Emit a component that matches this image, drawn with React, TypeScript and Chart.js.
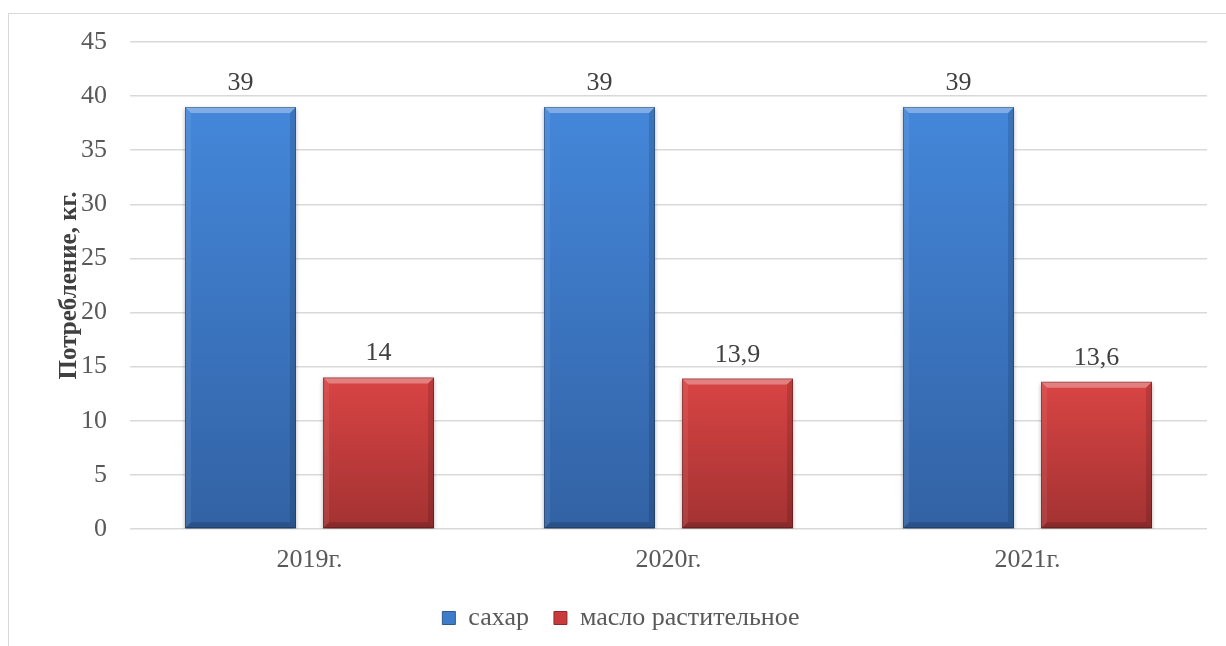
import React, { useEffect, useRef } from "react";
import { Chart, registerables } from "chart.js";

Chart.register(...registerables);

// ---- data ----
const categories = ["2019г.", "2020г.", "2021г."];
const sugarValues = [39, 39, 39];
const oilValues = [14, 13.9, 13.6];
const seriesNames = ["сахар", "масло растительное"];
const yAxisTitle = "Потребление, кг.";
const yMin = 0;
const yMax = 45;
const yStep = 5;

// ---- styles ----
const FONT = "'Liberation Serif', 'Times New Roman', serif";
const TICK_COLOR = "#595959";
const LABEL_COLOR = "#404040";
const GRID_COLOR = "#d9d9d9";
const BLUE_TOP = "#4487da";
const BLUE_BOTTOM = "#3262a4";
const RED_TOP = "#d94444";
const RED_BOTTOM = "#a33232";

function barFill(top: string, bottom: string) {
  return (ctx: any) => {
    const chart = ctx.chart;
    const y = chart && chart.scales ? chart.scales.y : null;
    if (!y || ctx.type !== "data" || !ctx.parsed) return top;
    const yTop = y.getPixelForValue(ctx.parsed.y);
    const yBase = y.getPixelForValue(0);
    if (!isFinite(yTop) || !isFinite(yBase) || yTop === yBase) return top;
    const g = chart.ctx.createLinearGradient(0, yTop, 0, yBase);
    g.addColorStop(0, top);
    g.addColorStop(1, bottom);
    return g;
  };
}

const shadowPlugin = {
  id: "barShadow",
  beforeDatasetDraw(chart: any) {
    const c = chart.ctx;
    c.save();
    c.shadowColor = "rgba(0,0,0,0.30)";
    c.shadowBlur = 4;
    c.shadowOffsetX = 0;
    c.shadowOffsetY = 2;
  },
  afterDatasetDraw(chart: any) {
    chart.ctx.restore();
  },
};

const legendShiftPlugin = {
  id: "legendShift",
  afterLayout(chart: any) {
    const lg = chart.legend;
    if (lg) {
      lg.left += 13;
      lg.right += 13;
    }
  },
};

function poly(c: CanvasRenderingContext2D, pts: number[][], fill: string) {
  c.beginPath();
  c.moveTo(pts[0][0], pts[0][1]);
  for (let i = 1; i < pts.length; i++) c.lineTo(pts[i][0], pts[i][1]);
  c.closePath();
  c.fillStyle = fill;
  c.fill();
}

const bevelPlugin = {
  id: "bevelAndLabels",
  afterDatasetsDraw(chart: any) {
    const c: CanvasRenderingContext2D = chart.ctx;
    chart.data.datasets.forEach((ds: any, di: number) => {
      const meta = chart.getDatasetMeta(di);
      if (meta.hidden) return;
      meta.data.forEach((el: any, i: number) => {
        const { x, y, base, width } = el.getProps(["x", "y", "base", "width"], true);
        const l = x - width / 2;
        const r = x + width / 2;
        const t = Math.min(y, base);
        const b = Math.max(y, base);
        const k = 6;
        c.save();
        poly(c, [[l, t], [r, t], [r - k, t + k], [l + k, t + k]], "rgba(255,255,255,0.32)");
        poly(c, [[l, t], [l + k, t + k], [l + k, b - k], [l, b]], "rgba(255,255,255,0.07)");
        poly(c, [[r, t], [r, b], [r - k, b - k], [r - k, t + k]], "rgba(0,0,0,0.13)");
        poly(c, [[l, b], [r, b], [r - k, b - k], [l + k, b - k]], "rgba(0,0,0,0.16)");
        c.strokeStyle = "rgba(0,0,0,0.28)";
        c.lineWidth = 1;
        c.strokeRect(l + 0.5, t + 0.5, width - 1, b - t - 1);
        c.restore();

        // value label
        const v = ds.data[i];
        const text = String(v).replace(".", ",");
        c.save();
        c.font = `26px ${FONT}`;
        c.fillStyle = LABEL_COLOR;
        c.textAlign = "center";
        c.textBaseline = "alphabetic";
        c.fillText(text, x, t - 17);
        c.restore();
      });
    });
  },
};

export default function App() {
  const canvasRef = useRef<HTMLCanvasElement | null>(null);

  useEffect(() => {
    document.body.style.overflow = "hidden";
    const canvas = canvasRef.current;
    if (!canvas) return;
    const chart = new Chart(canvas, {
      type: "bar",
      data: {
        labels: categories,
        datasets: [
          {
            label: seriesNames[0],
            data: sugarValues,
            backgroundColor: barFill(BLUE_TOP, BLUE_BOTTOM),
            borderWidth: 0,
          },
          {
            label: seriesNames[1],
            data: oilValues,
            backgroundColor: barFill(RED_TOP, RED_BOTTOM),
            borderWidth: 0,
          },
        ],
      },
      options: {
        animation: false,
        responsive: true,
        maintainAspectRatio: false,
        events: [],
        datasets: {
          bar: {
            categoryPercentage: 0.769,
            barPercentage: 0.804,
          },
        },
        layout: {
          padding: { left: 0, right: 19, top: 28, bottom: 5 },
        },
        plugins: {
          tooltip: { enabled: false },
          title: { display: false },
          legend: {
            display: true,
            position: "bottom",
            labels: {
              boxWidth: 13,
              boxHeight: 13,
              padding: 25,
              color: TICK_COLOR,
              font: { family: FONT, size: 26 },
              generateLabels: (ch: any) =>
                ch.data.datasets.map((ds: any, i: number) => ({
                  text: ds.label,
                  fillStyle: i === 0 ? "#3d7cc9" : "#c93b3b",
                  strokeStyle: i === 0 ? "#2c5a94" : "#8f2a2a",
                  lineWidth: 1,
                  hidden: false,
                  datasetIndex: i,
                  fontColor: TICK_COLOR,
                })),
            },
          },
        },
        scales: {
          x: {
            grid: { display: false, drawTicks: false },
            border: { display: false },
            ticks: {
              color: TICK_COLOR,
              font: { family: FONT, size: 26 },
              padding: 16,
              maxRotation: 0,
            },
            afterFit: (s: any) => {
              s.height = 51;
            },
          },
          y: {
            min: yMin,
            max: yMax,
            grid: { color: GRID_COLOR, lineWidth: 1.5, drawTicks: false },
            border: { display: false },
            ticks: {
              stepSize: yStep,
              color: TICK_COLOR,
              font: { family: FONT, size: 26 },
              padding: 23,
            },
            title: {
              display: true,
              text: yAxisTitle,
              color: LABEL_COLOR,
              font: { family: FONT, size: 25, weight: "bold" },
              padding: { top: 46, bottom: 0 },
            },
            afterFit: (s: any) => {
              s.width = 121;
              s.paddingTop = 0;
              s.paddingBottom = 0;
            },
          },
        },
      },
      plugins: [shadowPlugin, bevelPlugin, legendShiftPlugin],
    });
    return () => chart.destroy();
  }, []);

  return (
    <div
      style={{
        position: "absolute",
        left: 8,
        top: 13,
        width: 1218,
        height: 633,
        boxSizing: "border-box",
        borderLeft: "1px solid #d9d9d9",
        borderTop: "1px solid #d9d9d9",
        background: "#ffffff",
      }}
    >
      <canvas ref={canvasRef} />
    </div>
  );
}
